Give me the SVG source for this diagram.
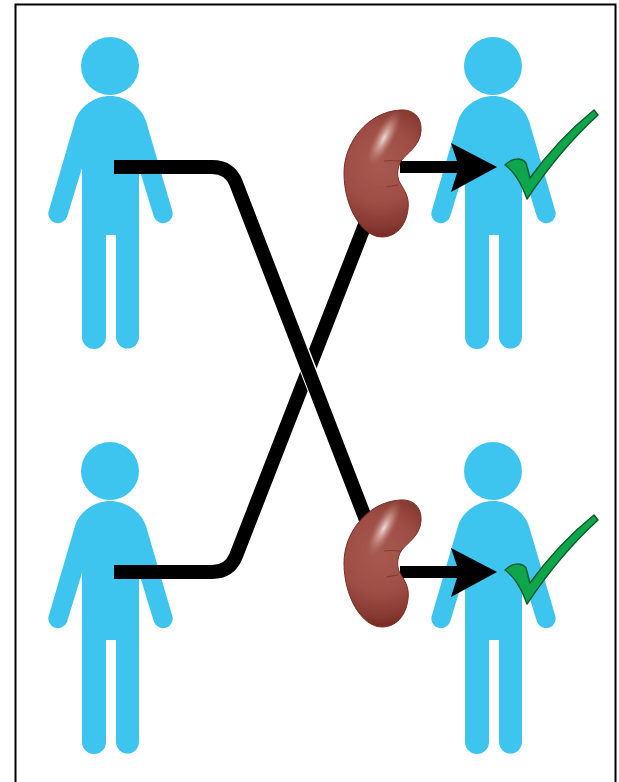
<svg xmlns="http://www.w3.org/2000/svg" width="619" height="782" viewBox="0 0 619 782">
<style>
.person{fill:#3cc4ef}
.line{fill:none;stroke:#000;stroke-width:14}
.gap{fill:none;stroke:#fff;stroke-width:16.500}
.arrow{fill:#000}
.check{fill:#0aa64c;stroke:#0d5c2c;stroke-width:1.500;stroke-linejoin:round}
.kidney{fill:url(#kg);stroke:#7c2d26;stroke-width:1}
.hil{fill:none;stroke:#6e2620;stroke-width:1;opacity:.6}
.shine{fill:url(#ks)}
</style>
<defs>
<radialGradient id="kg" gradientUnits="userSpaceOnUse" cx="380" cy="165" r="76">
<stop offset="0" stop-color="#a65a50"/>
<stop offset=".5" stop-color="#9e4e45"/>
<stop offset=".82" stop-color="#853830"/>
<stop offset="1" stop-color="#6f241d"/>
</radialGradient>
<radialGradient id="ks">
<stop offset="0" stop-color="#f3e4e0" stop-opacity=".95"/>
<stop offset=".5" stop-color="#d9a9a2" stop-opacity=".5"/>
<stop offset="1" stop-color="#b56f65" stop-opacity="0"/>
</radialGradient>
<filter id="soft" x="-5%" y="-5%" width="110%" height="110%"><feGaussianBlur stdDeviation=".6"/></filter>
<path id="p" class="person" d="M110 96C125 96 141 106 146 121L172 210A9.500 9.500 0 0 1 154 217L139 168V337A11.500 11.500 0 0 1 116 337V235H106V337A12 12 0 0 1 82 337V168L67 217A9.500 9.500 0 0 1 49 210L75 121C80 106 95 96 110 96Z"/>
<g id="k">
<path class="kidney" d="M400 110C413 109 422 117 421 131C420 146 407 153 401 161C397 168 397 176 399 181C403 189 410 196 408 209C406 226 396 237 382 237C362 237 344 207 344 173C344 142 368 112 400 110Z"/>
<ellipse class="shine" cx="384" cy="138" rx="10" ry="32" transform="rotate(28 384 138)"/>
<path class="hil" d="M384 161C390 160 396 161 402 161M386 187C390 186 394 186 398 185"/>
</g>
<path id="c" class="check" d="M505 165C512 158 521 157 526 163L530 178C550 150 573 127 594 110L598 115C575 136 549 166 527 199C522 185 515 172 505 165Z"/>
</defs>
<rect id="frame" x="15.500" y="4.500" width="600" height="790" fill="#fff" stroke="#000" stroke-width="2"/>
<g filter="url(#soft)">
<g id="person-1"><use href="#p"/><circle class="person" cx="110" cy="66" r="29"/></g>
<g id="person-2"><use href="#p" y="405"/><circle class="person" cx="110" cy="471" r="29"/></g>
<g id="person-3"><use href="#p" x="383"/><circle class="person" cx="493" cy="66" r="29"/></g>
<g id="person-4"><use href="#p" x="383" y="405"/><circle class="person" cx="493" cy="471" r="29"/></g>
<g id="connectors">
<path class="line" d="M114 572H212C224 572 232 566 236 556L366 222"/>
<path class="gap" d="M296 338L320 400"/>
<path class="line" d="M114 167H212C224 167 232 173 236 183L366 520"/>
<path class="arrow" d="M400 161H457L451 143L497 167L451 192L457 173H400Z"/>
<path class="arrow" d="M400 566H457L451 548L497 572L451 597L457 578H400Z"/>
</g>
<g id="kidney-1"><use href="#k"/></g>
<g id="kidney-2"><use href="#k" y="390"/></g>
<g id="check-1"><use href="#c"/></g>
<g id="check-2"><use href="#c" y="405"/></g>
</g>
</svg>
